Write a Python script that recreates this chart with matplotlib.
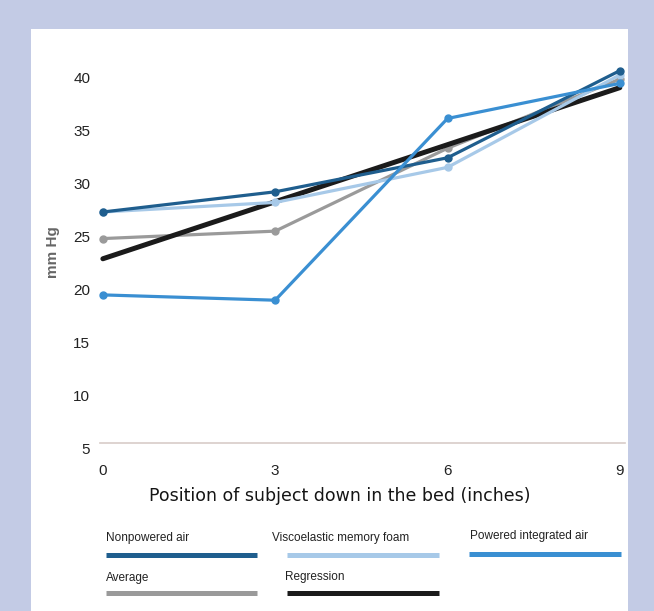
import matplotlib
matplotlib.use("Agg")
import matplotlib.pyplot as plt
from matplotlib.lines import Line2D
from matplotlib.patches import Rectangle

plt.rcParams['font.family'] = ['Liberation Sans', 'DejaVu Sans']

# data
positions = [0, 3, 6, 9]
nonpowered = [27.3, 29.2, 32.4, 40.6]
viscoelastic = [27.3, 28.2, 31.5, 40.2]
powered = [19.5, 19.0, 36.1, 39.4]
average = [24.8, 25.5, 33.3, 39.8]
reg_x = [0, 9]
regression = [22.9, 39.0]
y_ticks = [5, 10, 15, 20, 25, 30, 35, 40]
x_ticks = [0, 3, 6, 9]

c_dark = '#1f5e8e'
c_light = '#a7c9e8'
c_mid = '#3a8fd2'
c_grey = '#9a9a9a'
c_black = '#1b1b1b'

W, H = 654, 611
fig = plt.figure(figsize=(W / 100, H / 100), dpi=100, facecolor='#c3cbe5')
# white panel
fig.add_artist(Rectangle((31 / W, 0), 597 / W, 1 - 29 / H, transform=fig.transFigure,
                         facecolor='white', edgecolor='none', zorder=0))

ax = fig.add_axes([100 / W, 1 - 449 / H, 525 / W, (449 - 66.4) / H])
ax.set_facecolor('none')
ax.set_xlim(-0.05, 9.09)
ax.set_ylim(5, 41)

ax.plot(positions, average, '-o', color=c_grey, lw=2.3, ms=5, zorder=2, clip_on=False)
ax.plot(reg_x, regression, '-', color=c_black, lw=3.6, solid_capstyle='round', zorder=3, clip_on=False)
ax.plot(positions, viscoelastic, '-o', color=c_light, lw=2.3, ms=5, zorder=4, clip_on=False)
ax.plot(positions, nonpowered, '-o', color=c_dark, lw=2.3, ms=5, zorder=5, clip_on=False)
ax.plot(positions, powered, '-o', color=c_mid, lw=2.3, ms=5, zorder=6, clip_on=False)

for s in ['top', 'right', 'left']:
    ax.spines[s].set_visible(False)
ax.spines['bottom'].set_position(('data', 5.55))
ax.spines['bottom'].set_color('#d8ccc8')
ax.spines['bottom'].set_linewidth(1.2)

ax.set_yticks(y_ticks)
ax.set_xticks(x_ticks)
ax.tick_params(axis='both', length=0, labelsize=11, labelcolor='#222222')
ax.tick_params(axis='y', pad=7)
ax.tick_params(axis='x', pad=15)

fig.text(53 / W, 1 - 252 / H, 'mm Hg', rotation=90, ha='center', va='center',
         fontsize=11, fontweight='bold', color='#666666')
fig.text(340 / W, 1 - 496 / H, 'Position of subject down in the bed (inches)',
         ha='center', va='center', fontsize=12.5, color='#151515', family='DejaVu Sans')

# legend drawn as text plus bars
legend_items = [
    ('Nonpowered air', c_dark, 106, 106, 257, 538, 555),
    ('Viscoelastic memory foam', c_light, 272, 287, 439, 538, 555),
    ('Powered integrated air', c_mid, 470, 469, 621, 536, 554),
    ('Average', c_grey, 106, 106, 257, 578, 593),
    ('Regression', c_black, 285, 287, 439, 577, 593),
]
for label, col, tx, bx0, bx1, ty, by in legend_items:
    fig.text(tx / W, 1 - ty / H, label, ha='left', va='center', fontsize=8.5, color='#222222')
    fig.add_artist(Line2D([bx0 / W, bx1 / W], [1 - by / H, 1 - by / H], transform=fig.transFigure,
                          color=col, lw=3.6, solid_capstyle='butt'))

fig.savefig('out.png', dpi=100, facecolor=fig.get_facecolor())
